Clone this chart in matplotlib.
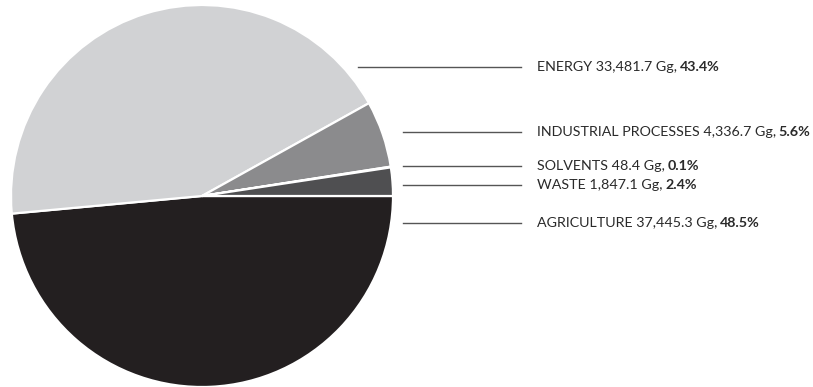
import matplotlib
matplotlib.use("Agg")
import matplotlib.pyplot as plt

categories = ["AGRICULTURE", "ENERGY", "INDUSTRIAL PROCESSES", "SOLVENTS", "WASTE"]
values_gg = [37445.3, 33481.7, 4336.7, 48.4, 1847.1]
value_labels = ["37,445.3", "33,481.7", "4,336.7", "48.4", "1,847.1"]
pct_labels = ["48.5%", "43.4%", "5.6%", "0.1%", "2.4%"]
colors = ["#231f20", "#d1d2d4", "#8b8b8d", "#6d6e70", "#4f4f51"]

W, H = 813, 387
fig = plt.figure(figsize=(W / 100, H / 100), dpi=100)
ax = fig.add_axes([0, 0, 1, 1])
ax.set_xlim(0, W)
ax.set_ylim(0, H)
ax.set_aspect("equal")
ax.axis("off")

cx, cy, r = 202, H - 196, 191
ax.pie(values_gg, colors=colors, startangle=0, counterclock=False,
       center=(cx, cy), radius=r, frame=True,
       wedgeprops=dict(edgecolor="white", linewidth=1.6))
ax.set_xlim(0, W)
ax.set_ylim(0, H)
ax.axis("off")

# leader lines and labels: (line start x, y) per category
line_start = {"AGRICULTURE": (403, 223), "ENERGY": (358, 67),
              "INDUSTRIAL PROCESSES": (403, 132), "SOLVENTS": (403, 166),
              "WASTE": (403, 185)}
line_end_x = 521
text_x = 537
fam = ["Lato", "DejaVu Sans"]
fs = 10.3

renderer = fig.canvas.get_renderer()
for cat, val, pct in zip(categories, value_labels, pct_labels):
    x0, y = line_start[cat]
    yy = H - y
    ax.plot([x0, line_end_x], [yy, yy], color="#555555", lw=1.0)
    t = ax.text(text_x, yy, f"{cat} {val} Gg, ", fontsize=fs, family=fam,
                color="#2a2a2a", va="center", ha="left")
    bb = t.get_window_extent(renderer=renderer)
    ax.text(bb.x1 - 1, yy, pct, fontsize=fs, family=fam, fontweight="bold",
            color="#2a2a2a", va="center", ha="left")

fig.savefig("out.png", dpi=100)
